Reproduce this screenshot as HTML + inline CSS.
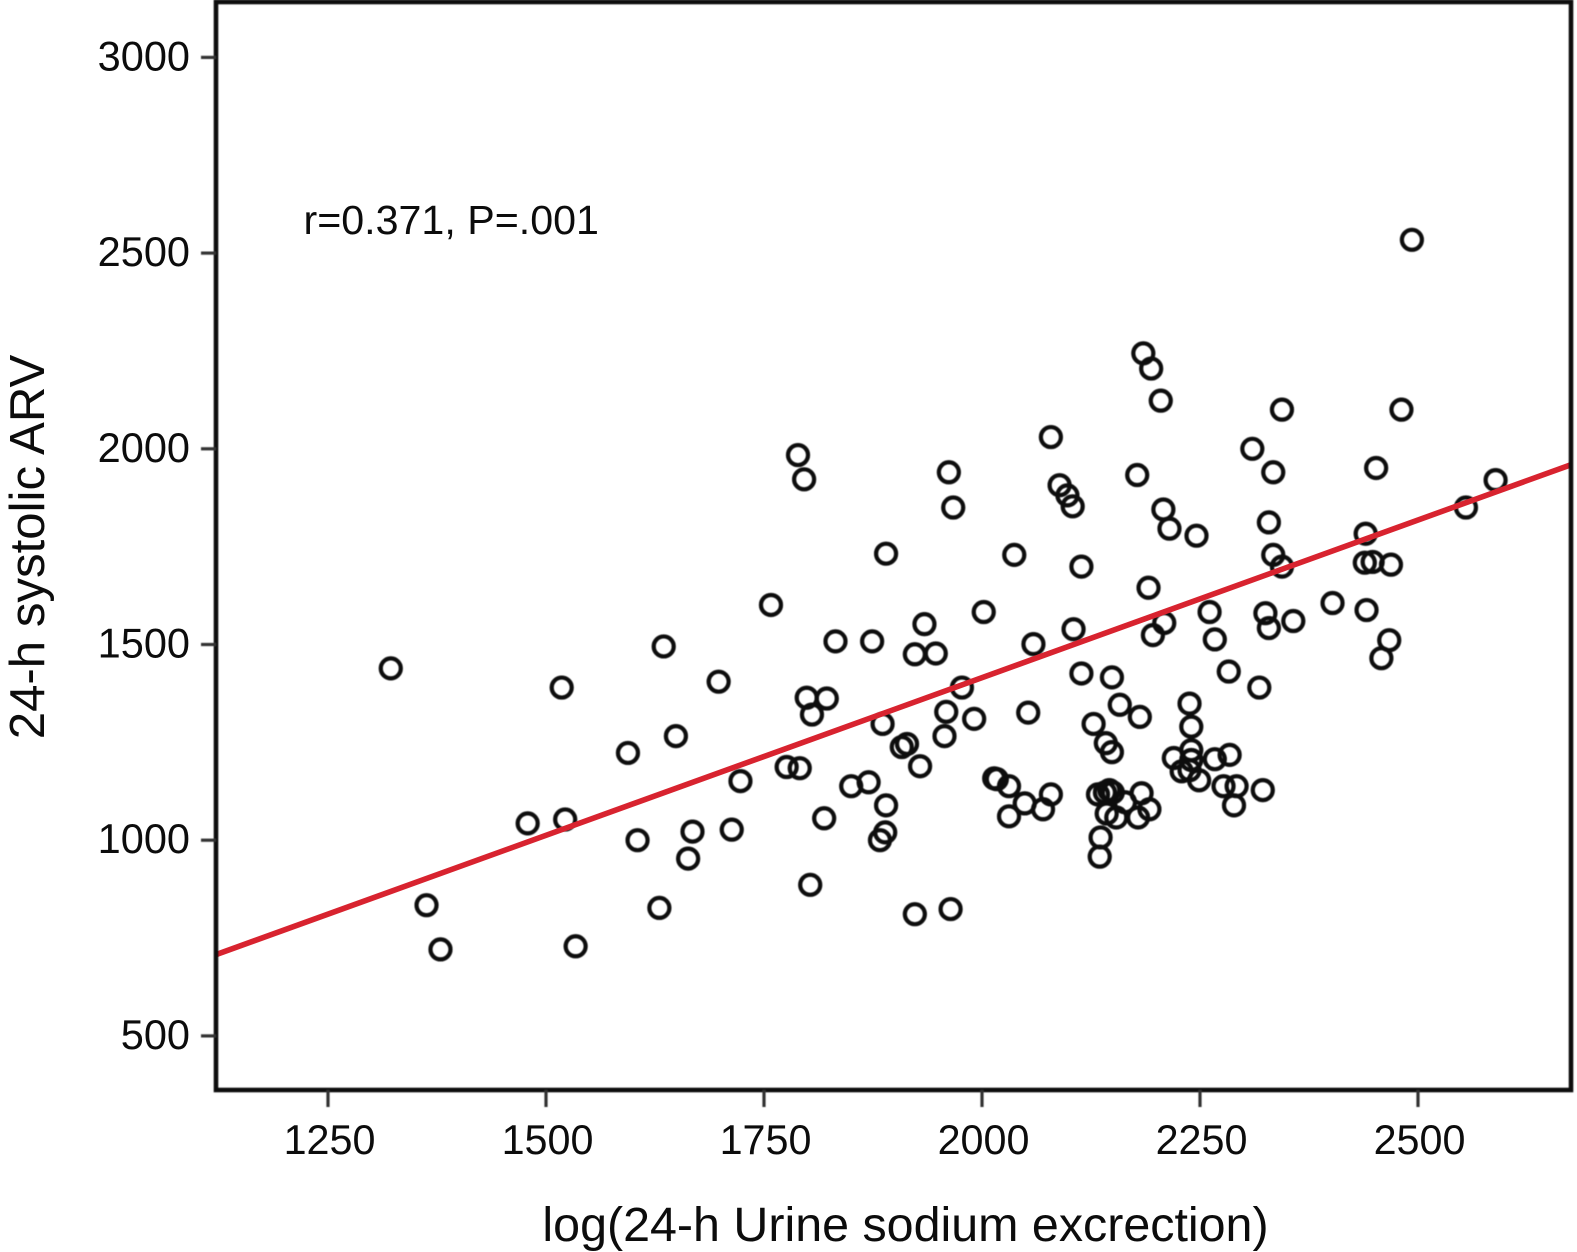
<!DOCTYPE html>
<html>
<head>
<meta charset="utf-8">
<title>24-h systolic ARV vs urine sodium excretion</title>
<style>
html,body{margin:0;padding:0;background:#fff;width:1577px;height:1252px;overflow:hidden}
svg{display:block}
text{font-family:"Liberation Sans",sans-serif;fill:#0c0c0c}
</style>
</head>
<body>
<svg id="chart" width="1577" height="1252" viewBox="0 0 1577 1252" xmlns="http://www.w3.org/2000/svg"></svg>
<script>
const xTicks = [1250, 1500, 1750, 2000, 2250, 2500];
const yTicks = [500, 1000, 1500, 2000, 2500, 3000];
const xValues = [1322,1363,1379,1479,1522,1518,1534,1594,1605,1630,1635,1649,1663,1668,1698,1713,1723,1758,1776,1791,1789,1796,1799,1805,1822,1819,1803,1832,1850,1870,1874,1886,1890,1890,1889,1883,1908,1914,1929,1923,1947,1934,1923,1964,1962,1967,1959,1957,1977,1991,2002,2014,2017,2031,2031,2049,2053,2059,2037,2079,2079,2070,2089,2098,2104,2105,2114,2114,2128,2142,2149,2149,2158,2181,2178,2185,2194,2205,2208,2215,2246,2191,2209,2196,2133,2141,2146,2150,2136,2135,2143,2154,2164,2179,2183,2192,2220,2229,2238,2240,2240,2240,2238,2249,2267,2284,2277,2292,2289,2322,2283,2267,2261,2318,2325,2329,2357,2344,2334,2329,2334,2310,2344,2402,2441,2439,2448,2440,2469,2467,2458,2452,2481,2493,2555,2589];
const yValues = [1439,834,721,1043,1053,1390,729,1223,1000,827,1495,1266,953,1022,1405,1027,1151,1601,1187,1184,1984,1922,1364,1321,1362,1056,886,1508,1138,1148,1508,1297,1089,1732,1020,1000,1238,1246,1189,1475,1477,1552,811,824,1940,1850,1328,1266,1390,1310,1583,1158,1156,1138,1061,1094,1326,1501,1729,2030,1117,1079,1907,1881,1853,1539,1426,1699,1297,1248,1225,1416,1346,1315,1933,2244,2205,2123,1845,1796,1778,1645,1555,1524,1117,1122,1128,1122,1007,958,1068,1058,1097,1058,1120,1079,1210,1176,1179,1230,1205,1290,1349,1153,1207,1218,1138,1138,1089,1128,1431,1513,1583,1390,1580,1542,1560,1699,1729,1812,1940,2000,2100,1606,1588,1709,1711,1783,1704,1511,1465,1951,2100,2534,1850,1920];
const fitX = [1122, 2680];
const fitY = [708, 1963];

const NS = 'http://www.w3.org/2000/svg';
const svg = document.getElementById('chart');
const plot = {left: 216, right: 1571, top: 2, bottom: 1090};
function sx(v){ return 328 + (v - 1250) * 0.872; }
function sy(v){ return 57.4 + (3000 - v) * 0.3914; }
function mk(tag, attrs, parent){
  const el = document.createElementNS(NS, tag);
  for (const k in attrs) el.setAttribute(k, attrs[k]);
  (parent || svg).appendChild(el);
  return el;
}

const defs = mk('defs', {});
const clip = mk('clipPath', {id: 'plot-clip'}, defs);
mk('rect', {x: plot.left, y: plot.top, width: plot.right - plot.left, height: plot.bottom - plot.top}, clip);
const soft = mk('filter', {id: 'soft', x: '-5%', y: '-5%', width: '110%', height: '110%'}, defs);
mk('feGaussianBlur', {stdDeviation: '0.6'}, soft);

const points = mk('g', {filter: 'url(#soft)', 'clip-path': 'url(#plot-clip)'});


xValues.forEach(function(v, i){
  const c = mk('circle', {cx: sx(v), cy: sy(yValues[i]), r: 10, fill: 'none', stroke: '#080808', 'stroke-width': 4.2}, points);
  
  
});

const fit = mk('line', {x1: sx(fitX[0]), y1: sy(fitY[0]), x2: sx(fitX[1]), y2: sy(fitY[1]), stroke: '#d8232f', 'stroke-width': 5.6, 'clip-path': 'url(#plot-clip)'});



const axes = mk('g', {filter: 'url(#soft)'});


const frame = mk('rect', {x: plot.left, y: plot.top, width: plot.right - plot.left, height: plot.bottom - plot.top, fill: 'none', stroke: '#101010', 'stroke-width': 4.6}, axes);



xTicks.forEach(function(v){
  const t = mk('line', {x1: sx(v), x2: sx(v), y1: plot.bottom, y2: plot.bottom + 17, stroke: '#333', 'stroke-width': 3.2}, axes);
  
  
  const l = mk('text', {x: sx(v) + 1.5, y: 1154, 'text-anchor': 'middle', 'font-size': 41.3});
  l.textContent = v;
  
  
});
yTicks.forEach(function(v){
  const t = mk('line', {x1: plot.left - 15, x2: plot.left, y1: sy(v), y2: sy(v), stroke: '#333', 'stroke-width': 3.2}, axes);
  
  
  const l = mk('text', {x: 190, y: sy(v) + 13, 'text-anchor': 'end', 'font-size': 41.5});
  l.textContent = v;
  
  
});

const xt = mk('text', {x: 905.5, y: 1241, 'text-anchor': 'middle', 'font-size': 48.4});
xt.textContent = 'log(24-h Urine sodium excrection)';



const yt = mk('text', {x: 0, y: 0, transform: 'translate(44,547) rotate(-90)', 'text-anchor': 'middle', 'font-size': 49.2});
yt.textContent = '24-h systolic ARV';



const ann = mk('text', {x: 303.5, y: 234, 'font-size': 41.2});
ann.textContent = 'r=0.371, P=.001';


</script>
</body>
</html>
